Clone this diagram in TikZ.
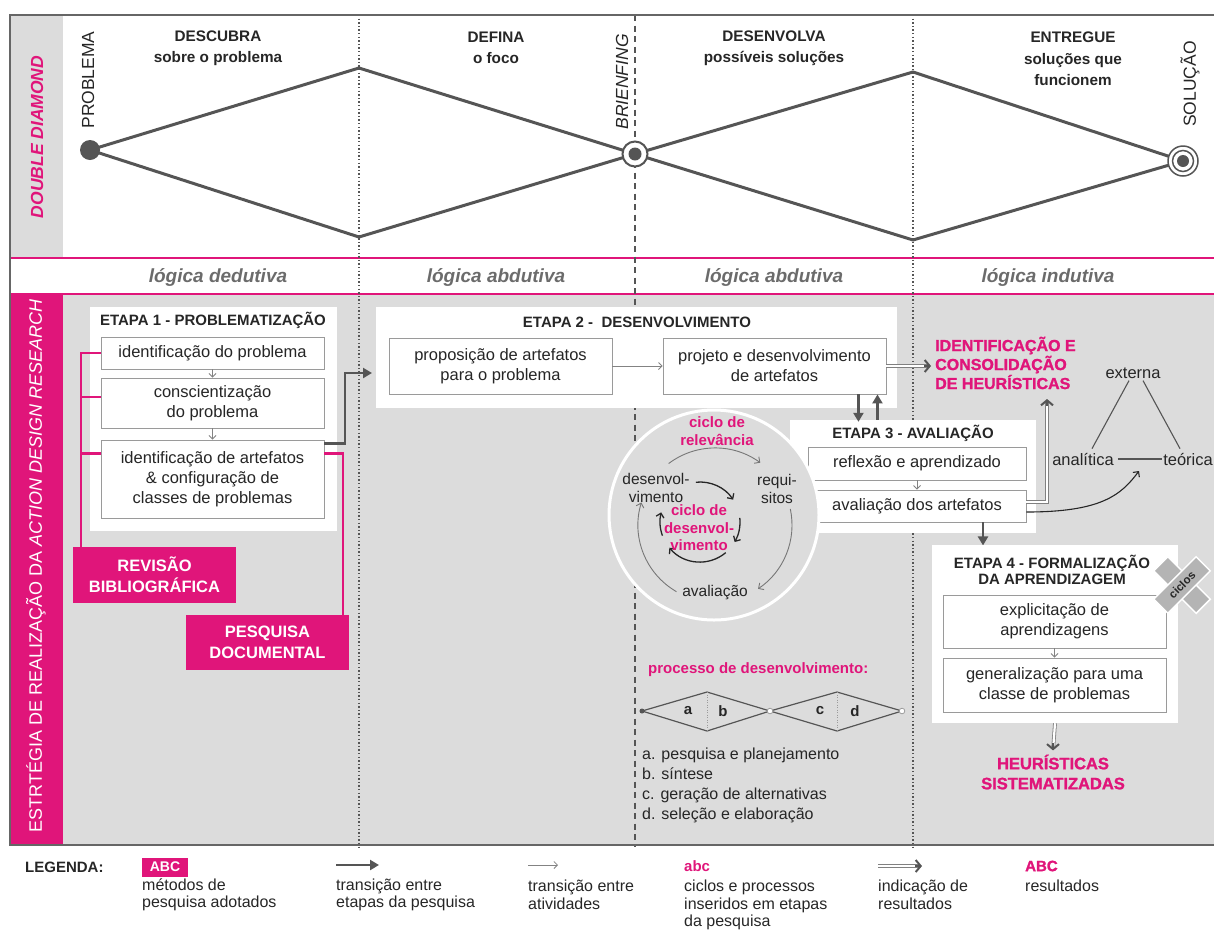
\documentclass[tikz,border=0pt]{standalone}
\usepackage{fontspec}
\setmainfont{Liberation Sans}
\setsansfont{Liberation Sans}
\newfontfamily\heavyfont[FakeBold=1.4]{Liberation Sans Bold}
\usetikzlibrary{arrows.meta,calc}

\definecolor{mag}{HTML}{E0157A}
\definecolor{bgg}{HTML}{DCDCDC}
\definecolor{ink}{HTML}{555555}
\definecolor{boxline}{HTML}{9A9A9A}
\definecolor{txt}{HTML}{262626}
\definecolor{logic}{HTML}{6B6B6B}
\definecolor{badge}{HTML}{B4B4B4}
\newcommand\fsz[2]{\fontsize{#1}{#2}\selectfont}

\tikzset{
  every node/.style={inner sep=0pt, text=txt},
  panel/.style={fill=white, inner sep=0pt},
  actbox/.style={draw=boxline, fill=white, line width=0.9pt, align=center, text=txt, font=\fsz{16.5}{20}},
  etapa/.style={align=center, text=txt, font=\bfseries\fsz{15}{15.5}},
  phase/.style={align=center, text=txt, font=\bfseries\fsz{15.3}{21.5}},
  logiclabel/.style={text=logic, font=\bfseries\itshape\fsz{19}{22}},
  method/.style={fill=mag, text=white, align=center, font=\bfseries\fsz{16.5}{21}, minimum width=163},
  result/.style={text=mag, align=left, font=\heavyfont\fsz{16}{19}},
  pinkcap/.style={text=mag, align=center, font=\bfseries\fsz{15}{17.5}},
  cyctext/.style={align=center, text=txt, font=\fsz{15.5}{18}},
  plain/.style={text=txt, font=\fsz{16.5}{20}},
  legtext/.style={text=txt, align=left, font=\fsz{16}{17.5}},
  pinkline/.style={draw=mag, line width=2.4pt},
  thinarrow/.style={draw=boxline!85!black, line width=0.8pt, -{Straight Barb[length=3.5pt,width=7pt]}},
  darkarrow/.style={draw=ink, line width=2.6pt, -{Triangle[length=9pt,width=10pt]}},
  resline/.style={draw=ink!75, line width=0.8pt, double=white, double distance=2.2pt},
  reshead/.style={draw=ink, line width=2pt, -{Straight Barb[length=5pt,width=12pt]}},
  outerarrow/.style={draw=ink!80, line width=0.9pt, -{Straight Barb[length=4pt,width=8pt]}},
  innerarrow/.style={draw=txt, line width=1.3pt, -{Straight Barb[length=4pt,width=8pt]}},
  diam/.style={draw=ink, line width=1.2pt},
  xarm/.style={fill=badge, draw=white, line width=1.5pt, minimum width=60, minimum height=20},
}

\begin{document}
\begin{tikzpicture}[x=1pt,y=-1pt]
\useasboundingbox (0,0) rectangle (1214,930);

% ---------- backgrounds ----------
\fill[bgg] (10,15) rectangle (63,258);
\fill[bgg] (63,294) rectangle (1216,845);
\fill[mag] (10,294) rectangle (63,845);
\draw[pinkline] (10,258) -- (1216,258);
\draw[pinkline] (10,294) -- (1216,294);

% ---------- phase dividers ----------
\draw[ink, line width=1.4pt, dash pattern=on 1.3pt off 2.3pt] (359,15) -- (359,847);
\draw[ink, line width=1.8pt, dash pattern=on 6pt off 4.5pt] (635,15) -- (635,847);
\draw[ink, line width=1.4pt, dash pattern=on 1.3pt off 2.3pt] (913,15) -- (913,847);

% ---------- double diamond ----------
\coordinate (P) at (90,150);
\coordinate (T1) at (359,68);
\coordinate (B1) at (359,237);
\coordinate (M) at (635,154);
\coordinate (T2) at (913,72);
\coordinate (B2) at (913,240);
\coordinate (S) at (1183,161);
\draw[ink, line width=3pt, line join=miter] (P) -- (T1) -- (M) -- (T2) -- (S) -- (B2) -- (M) -- (B1) -- cycle;
\node[circle, fill=ink, minimum size=20] (pdot) at (P) {};
\node[circle, draw=ink, line width=2pt, fill=white, minimum size=25] (mring) at (M) {};
\node[circle, fill=ink, minimum size=13] (mdot) at (M) {};
\node[circle, draw=ink, line width=1.5pt, fill=white, minimum size=30] (sring1) at (S) {};
\node[circle, draw=ink, line width=1.5pt, fill=white, minimum size=21] (sring2) at (S) {};
\node[circle, fill=ink, minimum size=12] (sdot) at (S) {};

\node[rotate=90, font=\fsz{17.5}{20}] (lprob) at (88,80) {PROBLEMA};
\node[rotate=90, font=\itshape\fsz{17.5}{20}] (lbrief) at (622,82) {BRIENFING};
\node[rotate=90, font=\fsz{17.5}{20}] (lsol) at (1190,84) {SOLUÇÃO};
\node[rotate=90, text=mag, font=\bfseries\itshape\fsz{17.5}{20}] (ldd) at (37,137) {DOUBLE DIAMOND};

\node[phase] (ph1) at (218,48) {DESCUBRA\\sobre o problema};
\node[phase] (ph2) at (496,48) {DEFINA\\o foco};
\node[phase] (ph3) at (774,48) {DESENVOLVA\\possíveis soluções};
\node[phase] (ph4) at (1073,59) {ENTREGUE\\soluções que\\funcionem};

% ---------- reasoning row ----------
\node[logiclabel] (lg1) at (218,277) {lógica dedutiva};
\node[logiclabel] (lg2) at (496,277) {lógica abdutiva};
\node[logiclabel] (lg3) at (774,277) {lógica abdutiva};
\node[logiclabel] (lg4) at (1048,277) {lógica indutiva};

\node[rotate=90, text=white, font=\fsz{18}{20}] (adr) at (36,566) {ESTRTÉGIA DE REALIZAÇÃO DA \textit{ACTION DESIGN RESEARCH}};

% ---------- etapa 1 ----------
\node[panel, minimum width=247, minimum height=224] (et1) at (213.5,419) {};
\node[etapa] (et1t) at (213,320) {ETAPA 1 - PROBLEMATIZAÇÃO};
\node[actbox, minimum width=223, minimum height=32] (b11) at (212.5,353) {identificação do problema};
\node[actbox, minimum width=223, minimum height=50] (b12) at (212.5,403) {conscientização\\do problema};
\node[actbox, minimum width=223, minimum height=78] (b13) at (212.5,479) {identificação de artefatos\\\& configuração de\\classes de problemas};
\draw[thinarrow] (b11) -- (b12);
\draw[thinarrow] (b12) -- (b13);

\node[method, minimum height=56] (rev) at (154.5,575) {REVISÃO\\BIBLIOGRÁFICA};
\node[method, minimum height=55] (pesq) at (267.5,642.5) {PESQUISA\\DOCUMENTAL};
\coordinate (brk) at (81,353);
\draw[pinkline] (b11.west) -| (rev.north -| brk);
\draw[pinkline] ([yshift=6pt]b12.west) -- ([yshift=6pt]b12.west -| brk);
\draw[pinkline] ([yshift=-14pt]b13.north west) -- ([yshift=-14pt]b13.north west -| brk);
\draw[pinkline] ([yshift=-14pt]b13.north east) -| ([xshift=-6pt]pesq.north east);

% ---------- etapa 2 ----------
\node[panel, minimum width=521, minimum height=101] (et2) at (636.5,357.5) {};
\node[etapa] (et2t) at (637,322) {ETAPA 2 -\ \ DESENVOLVIMENTO};
\node[actbox, minimum width=223, minimum height=56] (pa) at (500.5,366) {proposição de artefatos\\para o problema};
\node[actbox, minimum width=223, minimum height=56] (pb) at (774.5,366) {projeto e desenvolvimento\\de artefatos};
\draw[thinarrow] (pa) -- (pb);

\coordinate (j1) at (345,373);
\coordinate (j2) at (372,373);
\draw[darkarrow, line join=miter] ([yshift=-4pt]b13.north east) -| (j1) -- (j2);

% ---------- etapa 3 ----------
\node[panel, minimum width=246, minimum height=113] (et3) at (913,476.5) {};
\node[etapa] (et3t) at (913,433) {ETAPA 3 - AVALIAÇÃO};
\node[actbox, minimum width=218, minimum height=33] (rf) at (917,463.5) {reflexão e aprendizado};
\node[actbox, minimum width=218, minimum height=32] (av) at (917,506) {avaliação dos artefatos};
\draw[thinarrow] (rf) -- (av);

\draw[darkarrow] ($(pb.south east)+(-28,0)$) -- ($(pb.south east |- et3.north)+(-28,2)$);
\draw[darkarrow] ($(pb.south east |- et3.north)+(-9,0)$) -- ($(pb.south east)+(-9,0)$);

% ---------- design cycles ----------
\node[circle, fill=bgg, draw=white, line width=3pt, minimum size=210] (cyc) at (714,515) {};
\coordinate (oc) at (715,525);
\coordinate (ic) at (700,522);
\draw[outerarrow] ($(oc)+(-127:77)$) arc[start angle=-127, end angle=-54, radius=77];
\draw[outerarrow] ($(oc)+(-12:77)$) arc[start angle=-12, end angle=56, radius=77];
\draw[outerarrow] ($(oc)+(-240:77)$) arc[start angle=-240, end angle=-163, radius=77];
\draw[innerarrow] ($(ic)+(-96:40)$) arc[start angle=-96, end angle=-34, radius=40];
\draw[innerarrow] ($(ic)+(-6:40)$) arc[start angle=-6, end angle=30, radius=40];
\draw[innerarrow] ($(ic)+(50:40)$) arc[start angle=50, end angle=140, radius=40];
\draw[innerarrow] ($(ic)+(160:40)$) arc[start angle=160, end angle=194, radius=40];
\node[pinkcap] (crel) at (717,431) {ciclo de\\relevância};
\node[cyctext] (cdes) at (656,488) {desenvol-\\vimento};
\node[cyctext] (creq) at (777,489) {requi-\\sitos};
\node[pinkcap] (cdev) at (699,528) {ciclo de\\desenvol-\\vimento};
\node[cyctext] (caval) at (715,593) {avaliação};

% ---------- results ----------
\node[result, anchor=west] (heu) at (935,363) {IDENTIFICAÇÃO E\\CONSOLIDAÇÃO\\DE HEURÍSTICAS};
\coordinate (h1) at ($(pb.east -| heu.west)+(-4,0)$);
\draw[resline, shorten >=2pt] (pb.east) -- (h1);
\draw[reshead] ($(h1)+(-7,0)$) -- (h1);
\coordinate (hu) at (1047,399);
\draw[resline, shorten >=2pt] ([yshift=4pt]av.east) -| (hu);
\draw[reshead] ($(hu)+(0,7)$) -- (hu);

\node[plain] (ext) at (1133,373) {externa};
\node[plain] (ana) at (1083,459) {analítica};
\node[plain] (teo) at (1188,459) {teórica};
\draw[ink, line width=1.1pt] ([xshift=-4pt,yshift=-2pt]ext.south) -- ([xshift=9pt,yshift=4pt]ana.north);
\draw[ink, line width=1.1pt] ([xshift=10pt,yshift=-2pt]ext.south) -- ([xshift=-8pt,yshift=4pt]teo.north);
\draw[ink, line width=1.1pt, shorten <=4pt, shorten >=1pt] (ana.east) -- (teo.west);
\coordinate (tarr) at (1139,471);
\draw[draw=txt, line width=1.1pt, -{Straight Barb[length=4pt,width=8pt]}] ([yshift=-6pt]av.east) .. controls +(75,0) and +(-18,24) .. (tarr);

% ---------- etapa 4 ----------
\draw[darkarrow] ($(av.south)+(66,0)$) -- ($(av.south)+(66,23)$);
\node[panel, minimum width=246, minimum height=178] (et4) at (1055,634) {};
\node[etapa] (et4t) at (1052,570) {ETAPA 4 - FORMALIZAÇÃO\\DA APRENDIZAGEM};
\node[actbox, minimum width=223, minimum height=53] (ex) at (1054.5,621.5) {explicitação de\\aprendizagens};
\node[actbox, minimum width=223, minimum height=54] (ge) at (1054.5,685) {generalização para uma\\classe de problemas};
\draw[thinarrow] (ex) -- (ge);

\node[xarm, rotate=-45] (xarm1) at (1182,585) {};
\node[xarm, rotate=45, font=\bfseries\fsz{11.5}{12}] (xarm2) at (1182,585) {ciclos};

\node[result, align=center, font=\heavyfont\fsz{16.5}{20}] (hs) at (1053,772) {HEURÍSTICAS\\SISTEMATIZADAS};
\coordinate (h4) at ($(hs.north)+(0,-4)$);
\draw[resline, shorten >=2pt] (et4.south) -- (h4);
\draw[reshead] ($(h4)+(0,-7)$) -- (h4);

% ---------- development process ----------
\node[pinkcap, anchor=west] (proc) at (648,670) {processo de desenvolvimento:};
\coordinate (d1l) at (642,711);
\coordinate (d1t) at (707,692);
\coordinate (d1r) at (770,711);
\coordinate (d1b) at (707,731);
\coordinate (d2t) at (837,692);
\coordinate (d2r) at (902,711);
\coordinate (d2b) at (837,731);
\draw[diam] (d1l) -- (d1t) -- (d1r) -- (d1b) -- cycle;
\draw[diam] (d1r) -- (d2t) -- (d2r) -- (d2b) -- cycle;
\draw[boxline, line width=0.8pt, dash pattern=on 1pt off 1.5pt] (d1t) -- (d1b);
\draw[boxline, line width=0.8pt, dash pattern=on 1pt off 1.5pt] (d2t) -- (d2b);
\fill[ink] (d1l) circle (2.5);
\filldraw[fill=white, draw=boxline, line width=0.8pt] (d1r) circle (2.8);
\filldraw[fill=white, draw=boxline, line width=0.8pt] (d2r) circle (2.8);
\node[font=\bfseries\fsz{15}{15}] (la) at (688,711) {a};
\node[font=\bfseries\fsz{15}{15}] (lb) at (723,711) {b};
\node[font=\bfseries\fsz{15}{15}] (lc) at (820,711) {c};
\node[font=\bfseries\fsz{15}{15}] (ld) at (855,711) {d};
\node[anchor=west, align=left, font=\fsz{16}{20}] (plist) at (642,785) {a. pesquisa e planejamento\\b. síntese\\c. geração de alternativas\\d. seleção e elaboração};

% ---------- frame ----------
\draw[ink!90, line width=1.6pt] (1216,15) -- (10,15) -- (10,845) -- (1216,845);

% ---------- legend ----------
\node[anchor=west, font=\bfseries\fsz{15}{18}] (leg) at (25,867) {LEGENDA:};
\node[fill=mag, text=white, font=\bfseries\fsz{14}{16}, minimum width=46, minimum height=19] (k1) at (165,867) {ABC};
\node[legtext, anchor=west] (k1t) at (142,895) {métodos de\\pesquisa adotados};
\coordinate (k2a) at (336,865);
\coordinate (k2b) at (379,865);
\draw[darkarrow] (k2a) -- (k2b);
\node[legtext, anchor=west] (k2t) at (336,895) {transição entre\\etapas da pesquisa};
\coordinate (k3a) at (528,865);
\coordinate (k3b) at (558,865);
\draw[thinarrow] (k3a) -- (k3b);
\node[legtext, anchor=west] (k3t) at (528,895) {transição entre\\atividades};
\node[anchor=west, text=mag, font=\bfseries\fsz{15}{17}] (k4) at (684,866) {abc};
\node[legtext, anchor=north west] (k4t) at (684,880) {ciclos e processos\\inseridos em etapas\\da pesquisa};
\coordinate (k5a) at (878,866);
\coordinate (k5b) at (922,866);
\draw[resline, shorten >=2pt] (k5a) -- (k5b);
\draw[reshead] ($(k5b)+(-7,0)$) -- (k5b);
\node[legtext, anchor=west] (k5t) at (878,895) {indicação de\\resultados};
\node[anchor=west, text=mag, font=\heavyfont\fsz{15}{17}] (k6) at (1025,866) {ABC};
\node[legtext, anchor=west] (k6t) at (1025,886) {resultados};
\end{tikzpicture}
\end{document}
